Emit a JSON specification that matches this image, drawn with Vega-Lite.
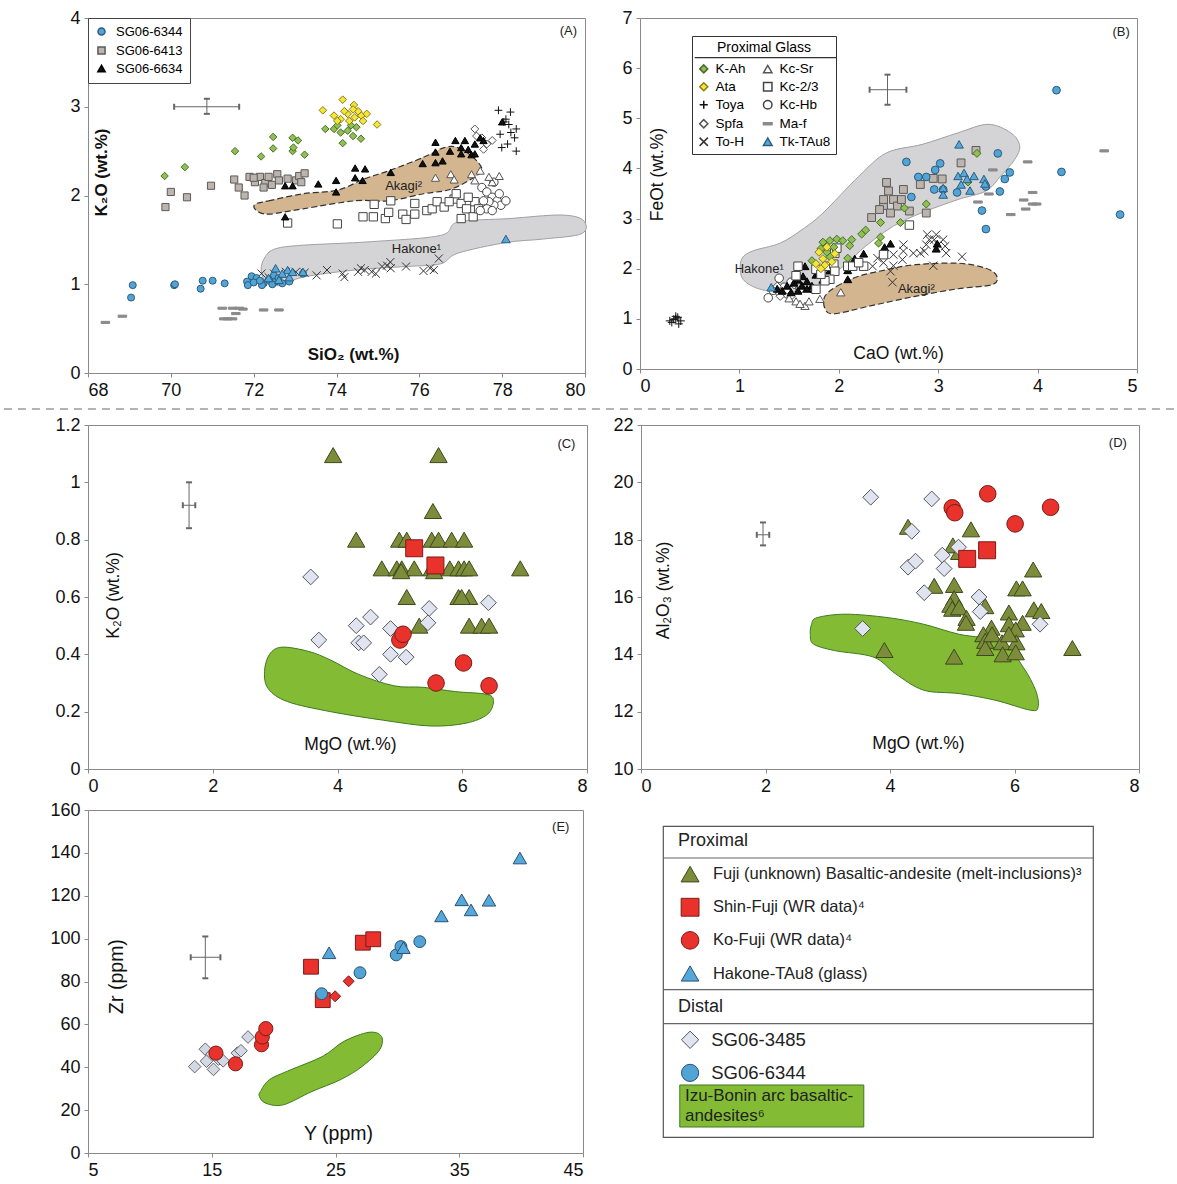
{
"$schema":"https://vega.github.io/schema/vega-lite/v6.json",
"padding":{"left":2,"top":8,"right":2,"bottom":4},
"config":{"font":"Liberation Sans","view":{"stroke":"#8a8a8a","strokeWidth":1},
"axis":{"grid":false,"domainColor":"#8a8a8a","tickColor":"#8a8a8a","tickSize":4,"labelFontSize":18,"labelColor":"#111","titleFontSize":17.5,"titleFontWeight":"normal","titleColor":"#111","labelPadding":4,"labelFont":"Liberation Sans","titleFont":"Liberation Sans","format":"~r"},
"legend":{"labelFont":"Liberation Sans","titleFont":"Liberation Sans"}},
"datasets":{
"A_pts":[
{"s":"Ma-f","x":68.42,"y":0.57},{"s":"Ma-f","x":68.83,"y":0.64},{"s":"Ma-f","x":71.24,"y":0.73},{"s":"Ma-f","x":71.49,"y":0.73},{"s":"Ma-f","x":71.66,"y":0.73},{"s":"Ma-f","x":71.37,"y":0.61},{"s":"Ma-f","x":71.57,"y":0.67},{"s":"Ma-f","x":71.74,"y":0.72},{"s":"Ma-f","x":72.24,"y":0.71},{"s":"Ma-f","x":72.61,"y":0.71},{"s":"Ma-f","x":71.28,"y":0.61},{"s":"Ma-f","x":71.49,"y":0.61},
{"s":"To-H","x":72.19,"y":1.12},{"s":"To-H","x":72.36,"y":1.08},{"s":"To-H","x":72.49,"y":1.12},{"s":"To-H","x":72.78,"y":1.14},{"s":"To-H","x":73.02,"y":1.14},{"s":"To-H","x":73.23,"y":1.13},{"s":"To-H","x":73.52,"y":1.1},{"s":"To-H","x":73.77,"y":1.16},{"s":"To-H","x":74.15,"y":1.12},{"s":"To-H","x":74.19,"y":1.08},{"s":"To-H","x":74.52,"y":1.14},{"s":"To-H","x":74.68,"y":1.16},{"s":"To-H","x":74.85,"y":1.14},{"s":"To-H","x":75.1,"y":1.2},{"s":"To-H","x":75.22,"y":1.21},{"s":"To-H","x":75.3,"y":1.25},{"s":"To-H","x":75.68,"y":1.2},{"s":"To-H","x":76.1,"y":1.15},{"s":"To-H","x":76.26,"y":1.18},{"s":"To-H","x":76.35,"y":1.16},{"s":"To-H","x":76.47,"y":1.29},{"s":"To-H","x":74.95,"y":1.12},{"s":"To-H","x":75.31,"y":1.18},{"s":"To-H","x":74.59,"y":1.18},
{"s":"Kc-2/3","x":72.82,"y":1.69},{"s":"Kc-2/3","x":74.02,"y":1.68},{"s":"Kc-2/3","x":74.64,"y":1.76},{"s":"Kc-2/3","x":74.89,"y":1.76},{"s":"Kc-2/3","x":74.91,"y":1.9},{"s":"Kc-2/3","x":75.18,"y":1.74},{"s":"Kc-2/3","x":75.26,"y":1.81},{"s":"Kc-2/3","x":75.31,"y":1.94},{"s":"Kc-2/3","x":75.6,"y":1.79},{"s":"Kc-2/3","x":75.68,"y":1.73},{"s":"Kc-2/3","x":75.89,"y":1.91},{"s":"Kc-2/3","x":75.89,"y":1.79},{"s":"Kc-2/3","x":76.18,"y":1.83},{"s":"Kc-2/3","x":76.31,"y":1.85},{"s":"Kc-2/3","x":76.43,"y":1.93},{"s":"Kc-2/3","x":76.6,"y":1.87},{"s":"Kc-2/3","x":76.84,"y":1.96},{"s":"Kc-2/3","x":76.89,"y":2.02},{"s":"Kc-2/3","x":77.01,"y":1.91},{"s":"Kc-2/3","x":77.01,"y":1.74},{"s":"Kc-2/3","x":77.14,"y":1.85},{"s":"Kc-2/3","x":77.34,"y":1.93},{"s":"Kc-2/3","x":77.3,"y":1.76},{"s":"Kc-2/3","x":77.43,"y":1.85},{"s":"Kc-2/3","x":76.72,"y":1.93},{"s":"Kc-2/3","x":77.18,"y":1.98},
{"s":"Kc-Hb","x":77.51,"y":2.09},{"s":"Kc-Hb","x":77.63,"y":2.04},{"s":"Kc-Hb","x":77.76,"y":1.98},{"s":"Kc-Hb","x":77.88,"y":1.94},{"s":"Kc-Hb","x":77.97,"y":1.89},{"s":"Kc-Hb","x":78.09,"y":1.94},{"s":"Kc-Hb","x":77.8,"y":1.89},{"s":"Kc-Hb","x":77.68,"y":1.93},{"s":"Kc-Hb","x":77.55,"y":1.94},{"s":"Kc-Hb","x":77.93,"y":2.02},{"s":"Kc-Hb","x":77.8,"y":2.15},{"s":"Kc-Hb","x":77.63,"y":1.85},{"s":"Kc-Hb","x":77.47,"y":1.83},{"s":"Kc-Hb","x":77.76,"y":1.83},
{"s":"Kc-Sr","x":76.39,"y":2.2},{"s":"Kc-Sr","x":76.76,"y":2.24},{"s":"Kc-Sr","x":76.84,"y":2.18},{"s":"Kc-Sr","x":77.26,"y":2.24},{"s":"Kc-Sr","x":77.47,"y":2.28},{"s":"Kc-Sr","x":77.76,"y":2.15},{"s":"Kc-Sr","x":77.93,"y":2.22},{"s":"Kc-Sr","x":77.68,"y":2.21},{"s":"Kc-Sr","x":77.34,"y":2.17},
{"s":"Spfa","x":77.34,"y":2.75},{"s":"Spfa","x":77.51,"y":2.65},{"s":"Spfa","x":77.55,"y":2.52},{"s":"Spfa","x":77.76,"y":2.62},{"s":"Spfa","x":77.38,"y":2.67},{"s":"Spfa","x":77.63,"y":2.58},
{"s":"Toya","x":78.09,"y":2.86},{"s":"Toya","x":78.2,"y":2.94},{"s":"Toya","x":77.91,"y":2.96},{"s":"Toya","x":78.34,"y":2.75},{"s":"Toya","x":78.21,"y":2.71},{"s":"Toya","x":78.3,"y":2.65},{"s":"Toya","x":78.13,"y":2.58},{"s":"Toya","x":78.34,"y":2.5},{"s":"Toya","x":77.99,"y":2.54},{"s":"Toya","x":78.04,"y":2.83},{"s":"Toya","x":78.16,"y":2.8},{"s":"Toya","x":77.95,"y":2.69},
{"s":"SG06-6413","x":69.87,"y":1.87},{"s":"SG06-6413","x":70.0,"y":2.04},{"s":"SG06-6413","x":70.39,"y":1.98},{"s":"SG06-6413","x":70.97,"y":2.11},{"s":"SG06-6413","x":71.53,"y":2.18},{"s":"SG06-6413","x":71.64,"y":2.09},{"s":"SG06-6413","x":71.78,"y":2.0},{"s":"SG06-6413","x":71.9,"y":2.21},{"s":"SG06-6413","x":72.03,"y":2.15},{"s":"SG06-6413","x":72.15,"y":2.21},{"s":"SG06-6413","x":72.28,"y":2.14},{"s":"SG06-6413","x":72.36,"y":2.21},{"s":"SG06-6413","x":72.44,"y":2.12},{"s":"SG06-6413","x":72.57,"y":2.24},{"s":"SG06-6413","x":72.61,"y":2.17},{"s":"SG06-6413","x":72.82,"y":2.19},{"s":"SG06-6413","x":73.02,"y":2.17},{"s":"SG06-6413","x":73.1,"y":2.22},{"s":"SG06-6413","x":73.23,"y":2.25},{"s":"SG06-6413","x":73.15,"y":2.15},{"s":"SG06-6413","x":72.24,"y":2.09},{"s":"SG06-6413","x":72.0,"y":2.2},
{"s":"K-Ah","x":69.85,"y":2.22},{"s":"K-Ah","x":70.34,"y":2.32},{"s":"K-Ah","x":71.55,"y":2.5},{"s":"K-Ah","x":72.18,"y":2.44},{"s":"K-Ah","x":72.47,"y":2.66},{"s":"K-Ah","x":72.47,"y":2.53},{"s":"K-Ah","x":72.94,"y":2.65},{"s":"K-Ah","x":72.94,"y":2.5},{"s":"K-Ah","x":73.07,"y":2.62},{"s":"K-Ah","x":73.23,"y":2.46},{"s":"K-Ah","x":72.96,"y":2.54},{"s":"K-Ah","x":73.73,"y":2.75},{"s":"K-Ah","x":73.94,"y":2.75},{"s":"K-Ah","x":74.1,"y":2.71},{"s":"K-Ah","x":74.27,"y":2.73},{"s":"K-Ah","x":74.4,"y":2.67},{"s":"K-Ah","x":74.59,"y":2.64},{"s":"K-Ah","x":74.15,"y":2.59},{"s":"K-Ah","x":74.02,"y":2.79},{"s":"K-Ah","x":74.48,"y":2.77},{"s":"K-Ah","x":74.35,"y":2.79},
{"s":"Ata","x":73.67,"y":2.96},{"s":"Ata","x":74.15,"y":3.08},{"s":"Ata","x":74.42,"y":3.02},{"s":"Ata","x":74.98,"y":2.8},{"s":"Ata","x":73.94,"y":2.9},{"s":"Ata","x":74.1,"y":2.86},{"s":"Ata","x":74.27,"y":2.92},{"s":"Ata","x":74.44,"y":2.88},{"s":"Ata","x":74.6,"y":2.9},{"s":"Ata","x":74.73,"y":2.92},{"s":"Ata","x":74.52,"y":2.95},{"s":"Ata","x":74.31,"y":2.84},{"s":"Ata","x":74.19,"y":2.95},{"s":"Ata","x":74.64,"y":2.84},{"s":"Ata","x":74.02,"y":2.84},{"s":"Ata","x":74.4,"y":2.97},
{"s":"SG06-6634","x":72.76,"y":1.76},{"s":"SG06-6634","x":72.76,"y":2.11},{"s":"SG06-6634","x":72.94,"y":2.11},{"s":"SG06-6634","x":73.56,"y":2.13},{"s":"SG06-6634","x":73.99,"y":2.04},{"s":"SG06-6634","x":73.99,"y":2.17},{"s":"SG06-6634","x":74.45,"y":2.31},{"s":"SG06-6634","x":74.69,"y":2.3},{"s":"SG06-6634","x":74.45,"y":2.2},{"s":"SG06-6634","x":74.63,"y":2.17},{"s":"SG06-6634","x":75.31,"y":2.26},{"s":"SG06-6634","x":76.08,"y":2.36},{"s":"SG06-6634","x":76.39,"y":2.6},{"s":"SG06-6634","x":76.39,"y":2.49},{"s":"SG06-6634","x":76.39,"y":2.37},{"s":"SG06-6634","x":76.56,"y":2.39},{"s":"SG06-6634","x":76.74,"y":2.5},{"s":"SG06-6634","x":76.87,"y":2.62},{"s":"SG06-6634","x":77.01,"y":2.47},{"s":"SG06-6634","x":77.1,"y":2.62},{"s":"SG06-6634","x":77.18,"y":2.52},{"s":"SG06-6634","x":77.34,"y":2.58},{"s":"SG06-6634","x":77.47,"y":2.65},{"s":"SG06-6634","x":77.55,"y":2.62},{"s":"SG06-6634","x":77.26,"y":2.46},{"s":"SG06-6634","x":77.01,"y":2.54},{"s":"SG06-6634","x":77.34,"y":2.47},{"s":"SG06-6634","x":78.0,"y":2.83},
{"s":"SG06-6344","x":69.08,"y":0.99},{"s":"SG06-6344","x":69.04,"y":0.85},{"s":"SG06-6344","x":70.08,"y":0.99},{"s":"SG06-6344","x":70.1,"y":1.0},{"s":"SG06-6344","x":70.72,"y":0.95},{"s":"SG06-6344","x":70.77,"y":1.04},{"s":"SG06-6344","x":71.01,"y":1.04},{"s":"SG06-6344","x":71.3,"y":1.01},{"s":"SG06-6344","x":71.84,"y":1.03},{"s":"SG06-6344","x":71.86,"y":0.99},{"s":"SG06-6344","x":71.95,"y":1.09},{"s":"SG06-6344","x":72.07,"y":1.07},{"s":"SG06-6344","x":72.24,"y":1.01},{"s":"SG06-6344","x":72.36,"y":1.05},{"s":"SG06-6344","x":72.53,"y":1.03},{"s":"SG06-6344","x":72.69,"y":1.01},{"s":"SG06-6344","x":72.86,"y":1.03},{"s":"SG06-6344","x":73.19,"y":1.12},{"s":"SG06-6344","x":72.2,"y":0.99},{"s":"SG06-6344","x":72.49,"y":1.1},{"s":"SG06-6344","x":72.6,"y":1.07},{"s":"SG06-6344","x":72.0,"y":1.02},{"s":"SG06-6344","x":72.15,"y":1.04},{"s":"SG06-6344","x":72.45,"y":1.0},
{"s":"Tk-TAu8","x":78.09,"y":1.51},{"s":"Tk-TAu8","x":72.53,"y":1.18},{"s":"Tk-TAu8","x":72.82,"y":1.16},{"s":"Tk-TAu8","x":73.19,"y":1.14},{"s":"Tk-TAu8","x":72.69,"y":1.12},{"s":"Tk-TAu8","x":72.36,"y":1.07},{"s":"Tk-TAu8","x":72.61,"y":1.05},{"s":"Tk-TAu8","x":72.86,"y":1.08},{"s":"Tk-TAu8","x":72.94,"y":1.14}
],
"A_hak":[{"i":1,"x":72.28,"y":1.31},{"i":2,"x":72.53,"y":1.4},{"i":3,"x":73.19,"y":1.44},{"i":4,"x":74.85,"y":1.48},{"i":5,"x":76.51,"y":1.55},{"i":6,"x":76.93,"y":1.7},{"i":7,"x":78.17,"y":1.74},{"i":8,"x":79.42,"y":1.78},{"i":9,"x":79.96,"y":1.72},{"i":10,"x":79.92,"y":1.57},{"i":11,"x":79.0,"y":1.51},{"i":12,"x":78.09,"y":1.47},{"i":13,"x":76.93,"y":1.35},{"i":14,"x":76.51,"y":1.23},{"i":15,"x":75.68,"y":1.2},{"i":16,"x":74.44,"y":1.16},{"i":17,"x":73.19,"y":1.08},{"i":18,"x":72.69,"y":0.99},{"i":19,"x":72.32,"y":1.01},{"i":20,"x":72.18,"y":1.16}],
"A_aka":[{"i":1,"x":72.03,"y":1.9},{"i":2,"x":72.36,"y":1.94},{"i":3,"x":73.19,"y":2.02},{"i":4,"x":74.02,"y":2.06},{"i":5,"x":74.69,"y":2.19},{"i":6,"x":75.27,"y":2.28},{"i":7,"x":76.1,"y":2.43},{"i":8,"x":76.6,"y":2.54},{"i":9,"x":76.93,"y":2.54},{"i":10,"x":77.3,"y":2.43},{"i":11,"x":77.51,"y":2.3},{"i":12,"x":77.34,"y":2.21},{"i":13,"x":76.76,"y":2.07},{"i":14,"x":76.1,"y":2.02},{"i":15,"x":75.27,"y":1.94},{"i":16,"x":74.44,"y":1.94},{"i":17,"x":73.19,"y":1.85},{"i":18,"x":72.36,"y":1.79},{"i":19,"x":72.07,"y":1.83}],
"A_txt":[{"t":"(A)","x":79.6,"y":3.85},{"t":"Akagi²","x":75.62,"y":2.11},{"t":"Hakone¹","x":75.93,"y":1.4}],
"A_err":[{"x":70.87,"y":3.0,"xlo":70.08,"xhi":71.65,"ylo":2.92,"yhi":3.09}],
"B_pts":[
{"s":"Ma-f","x":3.4,"y":3.33},{"s":"Ma-f","x":3.51,"y":3.49},{"s":"Ma-f","x":3.55,"y":3.97},{"s":"Ma-f","x":3.73,"y":3.08},{"s":"Ma-f","x":3.86,"y":3.37},{"s":"Ma-f","x":3.88,"y":3.19},{"s":"Ma-f","x":3.95,"y":3.29},{"s":"Ma-f","x":3.99,"y":3.29},{"s":"Ma-f","x":3.9,"y":4.13},{"s":"Ma-f","x":3.95,"y":3.52},{"s":"Ma-f","x":4.67,"y":4.35},
{"s":"To-H","x":2.34,"y":2.05},{"s":"To-H","x":2.45,"y":2.12},{"s":"To-H","x":2.46,"y":2.28},{"s":"To-H","x":2.52,"y":1.95},{"s":"To-H","x":2.55,"y":2.06},{"s":"To-H","x":2.54,"y":1.73},{"s":"To-H","x":2.55,"y":2.28},{"s":"To-H","x":2.64,"y":2.18},{"s":"To-H","x":2.65,"y":2.48},{"s":"To-H","x":2.65,"y":2.35},{"s":"To-H","x":2.75,"y":2.31},{"s":"To-H","x":2.82,"y":2.31},{"s":"To-H","x":2.86,"y":2.35},{"s":"To-H","x":2.88,"y":2.48},{"s":"To-H","x":2.89,"y":2.68},{"s":"To-H","x":2.91,"y":2.58},{"s":"To-H","x":2.96,"y":2.58},{"s":"To-H","x":3.0,"y":2.48},{"s":"To-H","x":2.98,"y":2.68},{"s":"To-H","x":3.05,"y":2.58},{"s":"To-H","x":3.07,"y":2.45},{"s":"To-H","x":3.08,"y":2.31},{"s":"To-H","x":3.24,"y":2.24},{"s":"To-H","x":2.95,"y":2.06},{"s":"To-H","x":2.39,"y":2.21},
{"s":"Toya","x":0.36,"y":1.0},{"s":"Toya","x":0.32,"y":0.93},{"s":"Toya","x":0.38,"y":1.03},{"s":"Toya","x":0.39,"y":0.9},{"s":"Toya","x":0.34,"y":0.99},{"s":"Toya","x":0.41,"y":0.96},{"s":"Toya","x":0.36,"y":1.05},{"s":"Toya","x":0.3,"y":0.96},
{"s":"SG06-6413","x":2.33,"y":3.02},{"s":"SG06-6413","x":2.45,"y":3.26},{"s":"SG06-6413","x":2.48,"y":3.72},{"s":"SG06-6413","x":2.5,"y":3.55},{"s":"SG06-6413","x":2.45,"y":3.38},{"s":"SG06-6413","x":2.55,"y":3.38},{"s":"SG06-6413","x":2.59,"y":3.25},{"s":"SG06-6413","x":2.65,"y":3.58},{"s":"SG06-6413","x":2.71,"y":3.15},{"s":"SG06-6413","x":2.88,"y":3.11},{"s":"SG06-6413","x":2.82,"y":3.68},{"s":"SG06-6413","x":2.95,"y":3.8},{"s":"SG06-6413","x":3.04,"y":3.79},{"s":"SG06-6413","x":3.23,"y":4.11},{"s":"SG06-6413","x":3.38,"y":4.36},{"s":"SG06-6413","x":2.41,"y":3.18},{"s":"SG06-6413","x":2.52,"y":3.11},{"s":"SG06-6413","x":2.63,"y":3.38},
{"s":"Kc-Hb","x":1.29,"y":1.42},{"s":"Kc-Hb","x":1.4,"y":1.81},{"s":"Kc-Hb","x":1.34,"y":1.57},{"s":"Kc-Hb","x":1.45,"y":1.63},{"s":"Kc-Hb","x":1.52,"y":1.73},{"s":"Kc-Hb","x":1.48,"y":1.5},{"s":"Kc-Hb","x":1.61,"y":1.6},{"s":"Kc-Hb","x":1.57,"y":1.7},{"s":"Kc-Hb","x":1.41,"y":1.51},
{"s":"Spfa","x":1.38,"y":1.65},{"s":"Spfa","x":1.48,"y":1.58},{"s":"Spfa","x":1.41,"y":1.45},{"s":"Spfa","x":1.55,"y":1.68},{"s":"Spfa","x":1.52,"y":1.45},
{"s":"Kc-Sr","x":1.57,"y":1.35},{"s":"Kc-Sr","x":1.66,"y":1.26},{"s":"Kc-Sr","x":1.81,"y":1.4},{"s":"Kc-Sr","x":2.02,"y":1.53},{"s":"Kc-Sr","x":1.61,"y":1.3},{"s":"Kc-Sr","x":1.7,"y":1.35},{"s":"Kc-Sr","x":1.5,"y":1.41},
{"s":"SG06-6634","x":1.38,"y":1.6},{"s":"SG06-6634","x":1.43,"y":1.56},{"s":"SG06-6634","x":1.48,"y":1.66},{"s":"SG06-6634","x":1.55,"y":1.72},{"s":"SG06-6634","x":1.59,"y":1.78},{"s":"SG06-6634","x":1.63,"y":1.66},{"s":"SG06-6634","x":1.64,"y":1.85},{"s":"SG06-6634","x":1.68,"y":1.75},{"s":"SG06-6634","x":1.73,"y":1.66},{"s":"SG06-6634","x":1.77,"y":1.88},{"s":"SG06-6634","x":1.8,"y":1.91},{"s":"SG06-6634","x":1.84,"y":1.78},{"s":"SG06-6634","x":1.66,"y":2.05},{"s":"SG06-6634","x":1.68,"y":1.6},{"s":"SG06-6634","x":1.59,"y":1.56},{"s":"SG06-6634","x":1.52,"y":1.53},{"s":"SG06-6634","x":1.91,"y":1.97},{"s":"SG06-6634","x":2.09,"y":1.97},{"s":"SG06-6634","x":2.16,"y":2.2},{"s":"SG06-6634","x":2.25,"y":2.3},{"s":"SG06-6634","x":2.46,"y":2.43},{"s":"SG06-6634","x":2.52,"y":2.5},{"s":"SG06-6634","x":2.99,"y":2.5},{"s":"SG06-6634","x":2.98,"y":2.4},{"s":"SG06-6634","x":2.09,"y":1.79},{"s":"SG06-6634","x":1.75,"y":1.6},
{"s":"Kc-2/3","x":1.59,"y":2.05},{"s":"Kc-2/3","x":1.57,"y":1.86},{"s":"Kc-2/3","x":1.77,"y":1.99},{"s":"Kc-2/3","x":1.88,"y":2.05},{"s":"Kc-2/3","x":1.96,"y":2.31},{"s":"Kc-2/3","x":1.98,"y":2.41},{"s":"Kc-2/3","x":1.95,"y":2.09},{"s":"Kc-2/3","x":1.96,"y":1.95},{"s":"Kc-2/3","x":1.91,"y":1.79},{"s":"Kc-2/3","x":2.09,"y":2.05},{"s":"Kc-2/3","x":2.14,"y":2.05},{"s":"Kc-2/3","x":2.25,"y":2.05},{"s":"Kc-2/3","x":2.45,"y":2.28},{"s":"Kc-2/3","x":2.71,"y":2.87},{"s":"Kc-2/3","x":1.77,"y":1.59},{"s":"Kc-2/3","x":1.86,"y":1.76},{"s":"Kc-2/3","x":1.82,"y":1.89},{"s":"Kc-2/3","x":2.2,"y":2.12},
{"s":"K-Ah","x":1.73,"y":2.16},{"s":"K-Ah","x":1.84,"y":2.53},{"s":"K-Ah","x":1.91,"y":2.56},{"s":"K-Ah","x":1.98,"y":2.59},{"s":"K-Ah","x":2.04,"y":2.56},{"s":"K-Ah","x":2.11,"y":2.46},{"s":"K-Ah","x":2.13,"y":2.58},{"s":"K-Ah","x":1.91,"y":2.24},{"s":"K-Ah","x":2.09,"y":2.21},{"s":"K-Ah","x":2.23,"y":2.69},{"s":"K-Ah","x":2.27,"y":2.77},{"s":"K-Ah","x":2.42,"y":2.92},{"s":"K-Ah","x":2.42,"y":2.63},{"s":"K-Ah","x":2.4,"y":2.51},{"s":"K-Ah","x":2.62,"y":2.92},{"s":"K-Ah","x":2.66,"y":3.21},{"s":"K-Ah","x":2.88,"y":3.29},{"s":"K-Ah","x":3.39,"y":4.3},{"s":"K-Ah","x":3.3,"y":3.73},{"s":"K-Ah","x":1.82,"y":2.4},{"s":"K-Ah","x":1.95,"y":2.43},{"s":"K-Ah","x":1.88,"y":2.33},
{"s":"Ata","x":1.8,"y":2.33},{"s":"Ata","x":1.88,"y":2.43},{"s":"Ata","x":1.84,"y":2.2},{"s":"Ata","x":1.93,"y":2.14},{"s":"Ata","x":1.77,"y":2.1},{"s":"Ata","x":1.86,"y":2.07},{"s":"Ata","x":1.82,"y":2.0},{"s":"Ata","x":1.96,"y":2.3},
{"s":"SG06-6344","x":4.19,"y":5.56},{"s":"SG06-6344","x":4.24,"y":3.93},{"s":"SG06-6344","x":4.83,"y":3.08},{"s":"SG06-6344","x":2.68,"y":4.13},{"s":"SG06-6344","x":3.02,"y":4.1},{"s":"SG06-6344","x":2.97,"y":3.97},{"s":"SG06-6344","x":3.6,"y":4.3},{"s":"SG06-6344","x":3.72,"y":3.92},{"s":"SG06-6344","x":3.67,"y":3.79},{"s":"SG06-6344","x":3.62,"y":3.54},{"s":"SG06-6344","x":3.44,"y":3.16},{"s":"SG06-6344","x":3.48,"y":2.79},{"s":"SG06-6344","x":3.48,"y":3.64},{"s":"SG06-6344","x":3.19,"y":3.52},{"s":"SG06-6344","x":2.96,"y":3.58},{"s":"SG06-6344","x":2.8,"y":3.83},{"s":"SG06-6344","x":2.88,"y":3.83},{"s":"SG06-6344","x":2.73,"y":3.43},{"s":"SG06-6344","x":3.05,"y":3.58},
{"s":"Tk-TAu8","x":1.32,"y":1.63},{"s":"Tk-TAu8","x":3.21,"y":4.48},{"s":"Tk-TAu8","x":3.05,"y":3.61},{"s":"Tk-TAu8","x":3.05,"y":3.48},{"s":"Tk-TAu8","x":3.2,"y":3.85},{"s":"Tk-TAu8","x":3.26,"y":3.91},{"s":"Tk-TAu8","x":3.29,"y":3.79},{"s":"Tk-TAu8","x":3.36,"y":3.85},{"s":"Tk-TAu8","x":3.46,"y":3.79},{"s":"Tk-TAu8","x":3.32,"y":3.56},{"s":"Tk-TAu8","x":3.23,"y":3.68},{"s":"Tk-TAu8","x":3.47,"y":3.7}
],
"B_hak":[{"i":1,"x":1.02,"y":2.18},{"i":2,"x":1.13,"y":2.35},{"i":3,"x":1.41,"y":2.51},{"i":4,"x":1.63,"y":2.78},{"i":5,"x":1.84,"y":3.11},{"i":6,"x":2.2,"y":3.84},{"i":7,"x":2.48,"y":4.31},{"i":8,"x":2.84,"y":4.48},{"i":9,"x":3.2,"y":4.71},{"i":10,"x":3.5,"y":4.88},{"i":11,"x":3.73,"y":4.71},{"i":12,"x":3.82,"y":4.45},{"i":13,"x":3.77,"y":4.18},{"i":14,"x":3.63,"y":3.85},{"i":15,"x":3.48,"y":3.55},{"i":16,"x":3.2,"y":3.38},{"i":17,"x":2.84,"y":3.12},{"i":18,"x":2.55,"y":2.85},{"i":19,"x":2.27,"y":2.45},{"i":20,"x":2.09,"y":2.12},{"i":21,"x":1.91,"y":1.85},{"i":22,"x":1.7,"y":1.58},{"i":23,"x":1.34,"y":1.55},{"i":24,"x":1.13,"y":1.65},{"i":25,"x":1.02,"y":1.85}],
"B_aka":[{"i":1,"x":1.86,"y":1.45},{"i":2,"x":1.98,"y":1.65},{"i":3,"x":2.2,"y":1.85},{"i":4,"x":2.48,"y":1.98},{"i":5,"x":2.77,"y":2.08},{"i":6,"x":3.2,"y":2.11},{"i":7,"x":3.48,"y":2.01},{"i":8,"x":3.59,"y":1.85},{"i":9,"x":3.54,"y":1.68},{"i":10,"x":3.2,"y":1.6},{"i":11,"x":2.77,"y":1.45},{"i":12,"x":2.3,"y":1.25},{"i":13,"x":1.95,"y":1.1},{"i":14,"x":1.86,"y":1.21}],
"B_txt":[{"t":"(B)","x":4.84,"y":6.73},{"t":"Hakone¹","x":1.2,"y":2.0},{"t":"Akagi²","x":2.78,"y":1.6}],
"B_err":[{"x":2.49,"y":5.57,"xlo":2.31,"xhi":2.68,"ylo":5.27,"yhi":5.87}],
"B_line":[{"x":0.55,"x2":1.975,"y":6.21}],
"C_pts":[
{"s":"Fuji","x":3.93,"y":1.095},{"s":"Fuji","x":5.62,"y":1.095},{"s":"Fuji","x":5.53,"y":0.9},{"s":"Fuji","x":4.3,"y":0.8},{"s":"Fuji","x":4.99,"y":0.8},{"s":"Fuji","x":5.11,"y":0.8},{"s":"Fuji","x":5.51,"y":0.8},{"s":"Fuji","x":5.62,"y":0.8},{"s":"Fuji","x":5.83,"y":0.8},{"s":"Fuji","x":6.03,"y":0.8},{"s":"Fuji","x":4.71,"y":0.7},{"s":"Fuji","x":4.95,"y":0.7},{"s":"Fuji","x":5.03,"y":0.7},{"s":"Fuji","x":5.23,"y":0.7},{"s":"Fuji","x":5.51,"y":0.7},{"s":"Fuji","x":5.8,"y":0.7},{"s":"Fuji","x":5.94,"y":0.7},{"s":"Fuji","x":6.03,"y":0.7},{"s":"Fuji","x":6.11,"y":0.7},{"s":"Fuji","x":6.93,"y":0.7},{"s":"Fuji","x":5.11,"y":0.6},{"s":"Fuji","x":5.94,"y":0.6},{"s":"Fuji","x":6.11,"y":0.6},{"s":"Fuji","x":5.99,"y":0.6},{"s":"Fuji","x":5.31,"y":0.5},{"s":"Fuji","x":6.11,"y":0.5},{"s":"Fuji","x":6.31,"y":0.5},{"s":"Fuji","x":6.43,"y":0.5},{"s":"Fuji","x":5.02,"y":0.69},{"s":"Fuji","x":5.55,"y":0.69},
{"s":"SG06-3485","x":3.57,"y":0.67},{"s":"SG06-3485","x":3.7,"y":0.45},{"s":"SG06-3485","x":4.3,"y":0.5},{"s":"SG06-3485","x":4.53,"y":0.53},{"s":"SG06-3485","x":4.34,"y":0.44},{"s":"SG06-3485","x":4.42,"y":0.44},{"s":"SG06-3485","x":4.85,"y":0.49},{"s":"SG06-3485","x":4.85,"y":0.4},{"s":"SG06-3485","x":5.1,"y":0.39},{"s":"SG06-3485","x":4.67,"y":0.33},{"s":"SG06-3485","x":5.47,"y":0.56},{"s":"SG06-3485","x":5.45,"y":0.51},{"s":"SG06-3485","x":6.42,"y":0.58},
{"s":"Shin-Fuji","x":5.23,"y":0.77},{"s":"Shin-Fuji","x":5.57,"y":0.71},
{"s":"Ko-Fuji","x":5.0,"y":0.45},{"s":"Ko-Fuji","x":5.05,"y":0.47},{"s":"Ko-Fuji","x":6.02,"y":0.37},{"s":"Ko-Fuji","x":5.58,"y":0.3},{"s":"Ko-Fuji","x":6.43,"y":0.29}
],
"C_izu":[{"i":1,"x":3.11,"y":0.425},{"i":2,"x":3.54,"y":0.41},{"i":3,"x":3.89,"y":0.38},{"i":4,"x":4.34,"y":0.33},{"i":5,"x":4.91,"y":0.29},{"i":6,"x":5.37,"y":0.285},{"i":7,"x":5.89,"y":0.27},{"i":8,"x":6.4,"y":0.26},{"i":9,"x":6.5,"y":0.235},{"i":10,"x":6.4,"y":0.19},{"i":11,"x":6.06,"y":0.16},{"i":12,"x":5.49,"y":0.15},{"i":13,"x":4.74,"y":0.17},{"i":14,"x":3.89,"y":0.2},{"i":15,"x":3.2,"y":0.235},{"i":16,"x":2.89,"y":0.28},{"i":17,"x":2.83,"y":0.34},{"i":18,"x":2.91,"y":0.4}],
"C_txt":[{"t":"(C)","x":7.67,"y":1.135}],
"C_err":[{"x":1.62,"y":0.92,"xlo":1.52,"xhi":1.72,"ylo":0.84,"yhi":1.0}],
"D_pts":[
{"s":"Fuji","x":4.29,"y":18.45},{"s":"Fuji","x":5.3,"y":18.36},{"s":"Fuji","x":5.01,"y":17.8},{"s":"Fuji","x":5.11,"y":17.57},{"s":"Fuji","x":6.3,"y":16.96},{"s":"Fuji","x":4.71,"y":16.39},{"s":"Fuji","x":5.03,"y":16.42},{"s":"Fuji","x":5.03,"y":15.96},{"s":"Fuji","x":4.97,"y":15.73},{"s":"Fuji","x":5.0,"y":15.59},{"s":"Fuji","x":5.11,"y":15.64},{"s":"Fuji","x":5.23,"y":15.27},{"s":"Fuji","x":5.22,"y":15.1},{"s":"Fuji","x":5.53,"y":15.68},{"s":"Fuji","x":6.03,"y":16.3},{"s":"Fuji","x":6.13,"y":16.3},{"s":"Fuji","x":6.31,"y":15.57},{"s":"Fuji","x":6.43,"y":15.51},{"s":"Fuji","x":5.91,"y":15.46},{"s":"Fuji","x":5.91,"y":15.05},{"s":"Fuji","x":6.13,"y":15.1},{"s":"Fuji","x":5.63,"y":14.93},{"s":"Fuji","x":5.5,"y":14.7},{"s":"Fuji","x":5.53,"y":14.47},{"s":"Fuji","x":5.53,"y":14.22},{"s":"Fuji","x":5.64,"y":14.7},{"s":"Fuji","x":5.8,"y":14.42},{"s":"Fuji","x":5.81,"y":14.0},{"s":"Fuji","x":6.02,"y":14.87},{"s":"Fuji","x":6.03,"y":14.42},{"s":"Fuji","x":6.02,"y":14.07},{"s":"Fuji","x":5.91,"y":14.7},{"s":"Fuji","x":6.93,"y":14.22},{"s":"Fuji","x":3.91,"y":14.15},{"s":"Fuji","x":5.03,"y":13.92},
{"s":"SG06-3485","x":3.69,"y":19.48},{"s":"SG06-3485","x":4.67,"y":19.42},{"s":"SG06-3485","x":4.35,"y":18.29},{"s":"SG06-3485","x":4.29,"y":17.04},{"s":"SG06-3485","x":4.41,"y":17.25},{"s":"SG06-3485","x":4.84,"y":17.46},{"s":"SG06-3485","x":4.87,"y":16.99},{"s":"SG06-3485","x":5.1,"y":17.74},{"s":"SG06-3485","x":4.55,"y":16.15},{"s":"SG06-3485","x":5.43,"y":16.0},{"s":"SG06-3485","x":5.45,"y":15.49},{"s":"SG06-3485","x":3.56,"y":14.9},{"s":"SG06-3485","x":6.41,"y":15.05},
{"s":"Shin-Fuji","x":5.24,"y":17.33},{"s":"Shin-Fuji","x":5.56,"y":17.63},
{"s":"Ko-Fuji","x":5.0,"y":19.11},{"s":"Ko-Fuji","x":5.04,"y":18.94},{"s":"Ko-Fuji","x":5.57,"y":19.6},{"s":"Ko-Fuji","x":6.01,"y":18.55},{"s":"Ko-Fuji","x":6.58,"y":19.13}
],
"D_izu":[{"i":1,"x":2.74,"y":15.05},{"i":2,"x":2.83,"y":15.28},{"i":3,"x":3.29,"y":15.4},{"i":4,"x":3.97,"y":15.28},{"i":5,"x":4.54,"y":15.05},{"i":6,"x":5.11,"y":14.7},{"i":7,"x":5.8,"y":14.42},{"i":8,"x":6.14,"y":13.55},{"i":9,"x":6.34,"y":12.74},{"i":10,"x":6.38,"y":12.17},{"i":11,"x":6.26,"y":12.05},{"i":12,"x":5.69,"y":12.4},{"i":13,"x":5.11,"y":12.63},{"i":14,"x":4.54,"y":12.75},{"i":15,"x":4.09,"y":13.32},{"i":16,"x":3.74,"y":13.9},{"i":17,"x":3.11,"y":14.13},{"i":18,"x":2.77,"y":14.36},{"i":19,"x":2.72,"y":14.7}],
"D_txt":[{"t":"(D)","x":7.66,"y":21.36}],
"D_err":[{"x":1.96,"y":18.17,"xlo":1.86,"xhi":2.06,"ylo":17.8,"yhi":18.6}],
"E_pts":[
{"s":"SG06-3485","x":13.62,"y":40.3},{"s":"SG06-3485","x":14.48,"y":48.4},{"s":"SG06-3485","x":15.0,"y":46.0},{"s":"SG06-3485","x":14.57,"y":42.8},{"s":"SG06-3485","x":15.14,"y":39.0},{"s":"SG06-3485","x":15.55,"y":43.8},{"s":"SG06-3485","x":15.92,"y":43.0},{"s":"SG06-3485","x":17.07,"y":46.6},{"s":"SG06-3485","x":17.36,"y":47.7},{"s":"SG06-3485","x":17.93,"y":54.1},
{"s":"Ko-Fuji","x":15.34,"y":46.6},{"s":"Ko-Fuji","x":16.92,"y":41.6},{"s":"Ko-Fuji","x":19.02,"y":50.5},{"s":"Ko-Fuji","x":19.08,"y":54.1},{"s":"Ko-Fuji","x":19.37,"y":58.0},
{"s":"Shin-Fuji","x":23.02,"y":86.9},{"s":"Shin-Fuji","x":23.97,"y":71.3},{"s":"Shin-Fuji","x":27.21,"y":98.1},{"s":"Shin-Fuji","x":28.05,"y":99.7},
{"s":"Fuji (other)","x":24.97,"y":73.1},{"s":"Fuji (other)","x":26.06,"y":80.1},
{"s":"SG06-6344","x":23.88,"y":74.3},{"s":"SG06-6344","x":26.98,"y":84.1},{"s":"SG06-6344","x":29.91,"y":92.4},{"s":"SG06-6344","x":30.29,"y":96.3},{"s":"SG06-6344","x":31.81,"y":98.6},
{"s":"Hakone-TAu8","x":39.9,"y":137.6},{"s":"Hakone-TAu8","x":35.2,"y":118.1},{"s":"Hakone-TAu8","x":35.95,"y":113.4},{"s":"Hakone-TAu8","x":37.4,"y":117.9},{"s":"Hakone-TAu8","x":33.56,"y":110.6},{"s":"Hakone-TAu8","x":24.48,"y":93.4},{"s":"Hakone-TAu8","x":30.49,"y":95.8}
],
"E_izu":[{"i":1,"x":18.94,"y":28.7},{"i":2,"x":19.66,"y":34.2},{"i":3,"x":21.38,"y":38.8},{"i":4,"x":23.97,"y":45.1},{"i":5,"x":25.69,"y":52.1},{"i":6,"x":27.7,"y":56.3},{"i":7,"x":28.71,"y":54.4},{"i":8,"x":28.56,"y":48.1},{"i":9,"x":27.13,"y":40.3},{"i":10,"x":25.4,"y":34.2},{"i":11,"x":23.1,"y":28.7},{"i":12,"x":20.8,"y":22.5},{"i":13,"x":19.37,"y":23.2},{"i":14,"x":18.85,"y":26.4}],
"E_txt":[{"t":"(E)","x":43.2,"y":152}],
"E_err":[{"x":14.48,"y":91.3,"xlo":13.3,"xhi":15.7,"ylo":81.5,"yhi":101}],
"L":[
{"item":"Proximal","kind":"head"},
{"item":"Fuji (unknown) Basaltic-andesite (melt-inclusions)³","kind":"prox","s":"Fuji"},
{"item":"Shin-Fuji (WR data)⁴","kind":"prox","s":"Shin-Fuji"},
{"item":"Ko-Fuji (WR data)⁴","kind":"prox","s":"Ko-Fuji"},
{"item":"Hakone-TAu8 (glass)","kind":"prox","s":"Hakone-TAu8"},
{"item":"Distal","kind":"head"},
{"item":"SG06-3485","kind":"dist","s":"SG06-3485"},
{"item":"SG06-6344","kind":"dist","s":"SG06-6344"},
{"item":"Izu-Bonin arc basaltic-\nandesites⁶","kind":"box"}
]
},
"spacing":4,
"resolve":{"scale":{"x":"independent","y":"independent","shape":"independent","fill":"independent","stroke":"independent","size":"independent"},"legend":{"shape":"independent","fill":"independent","stroke":"independent","size":"independent"}},
"vconcat":[
{"hconcat":[
{"width":497,"height":355,"layer":[
{"data":{"name":"A_hak"},"mark":{"type":"line","interpolate":"cardinal-closed","fill":"#d4d4d6","stroke":"#a0a0a0","strokeWidth":1},"encoding":{"x":{"field":"x","type":"quantitative","scale":{"domain":[68,80],"nice":false,"zero":false},"axis":{"title":"SiO₂ (wt.%)","values":[68,70,72,74,76,78,80],"titleX":265,"titleY":-19,"titleBaseline":"middle","titleFontWeight":"bold","titleFontSize":17}},"y":{"field":"y","type":"quantitative","scale":{"domain":[0,4],"nice":false},"axis":{"title":"K₂O (wt.%)","values":[0,1,2,3,4],"titleX":13,"titleY":154,"titleAngle":-90,"titleAlign":"center","titleBaseline":"middle","titleFontWeight":"bold","titleFontSize":17}},"order":{"field":"i","type":"quantitative"}}},
{"data":{"name":"A_aka"},"mark":{"type":"line","interpolate":"cardinal-closed","fill":"#d3b690","stroke":"#333","strokeWidth":1.2,"strokeDash":[6,3]},"encoding":{"x":{"field":"x","type":"quantitative"},"y":{"field":"y","type":"quantitative"},"order":{"field":"i","type":"quantitative"}}},
{"data":{"values":[{}]},"mark":{"type":"rule","strokeDash":[8,6],"color":"#9a9a9a","strokeWidth":1.5},"encoding":{"x":{"datum":65.97},"x2":{"datum":94.29},"y":{"datum":-0.406}}},
{"data":{"name":"A_err"},"mark":{"type":"rule","color":"#666"},"encoding":{"x":{"field":"xlo","type":"quantitative"},"x2":{"field":"xhi"},"y":{"field":"y","type":"quantitative"}}},
{"data":{"name":"A_err"},"mark":{"type":"rule","color":"#666"},"encoding":{"x":{"field":"x","type":"quantitative"},"y":{"field":"ylo","type":"quantitative"},"y2":{"field":"yhi"}}},
{"data":{"name":"A_err"},"transform":[{"fold":["xlo","xhi"],"as":["k","v"]}],"mark":{"type":"point","shape":"M0,-1L0,1","size":36,"color":"#666","opacity":1},"encoding":{"x":{"field":"v","type":"quantitative"},"y":{"field":"y","type":"quantitative"}}},
{"data":{"name":"A_err"},"transform":[{"fold":["ylo","yhi"],"as":["k","v"]}],"mark":{"type":"point","shape":"M-1,0L1,0","size":36,"color":"#666","opacity":1},"encoding":{"x":{"field":"x","type":"quantitative"},"y":{"field":"v","type":"quantitative"}}},
{"data":{"name":"A_pts"},"mark":{"type":"point","filled":true,"opacity":1,"strokeWidth":1},"encoding":{"x":{"field":"x","type":"quantitative"},"y":{"field":"y","type":"quantitative"},
"shape":{"field":"s","type":"nominal","scale":{"domain":["SG06-6344","SG06-6413","SG06-6634","K-Ah","Ata","Toya","Spfa","To-H","Kc-Sr","Kc-2/3","Kc-Hb","Ma-f","Tk-TAu8"],"range":["circle","square","triangle-up","diamond","diamond","M-1,0L1,0M0,-1L0,1","diamond","M-1,-1L1,1M-1,1L1,-1","triangle-up","square","circle","M-1,-0.25L1,-0.25L1,0.25L-1,0.25Z","triangle-up"]},"legend":{"values":["SG06-6344","SG06-6413","SG06-6634"],"orient":"top-left","offset":0,"title":null,"padding":7,"strokeColor":"#444","fillColor":"#fff","labelFontSize":13,"rowPadding":4,"labelOffset":8}},
"fill":{"field":"s","type":"nominal","scale":{"domain":["SG06-6344","SG06-6413","SG06-6634","K-Ah","Ata","Toya","Spfa","To-H","Kc-Sr","Kc-2/3","Kc-Hb","Ma-f","Tk-TAu8"],"range":["#52a3d6","#bcb4ad","#111111","#8dc152","#f3e639","transparent","#ffffff","transparent","#ffffff","#ffffff","#ffffff","#8a8a8a","#55a8dc"]},"legend":{"values":["SG06-6344","SG06-6413","SG06-6634"],"orient":"top-left","offset":0,"title":null,"padding":7,"strokeColor":"#444","fillColor":"#fff","labelFontSize":13,"rowPadding":4,"labelOffset":8}},
"stroke":{"field":"s","type":"nominal","scale":{"domain":["SG06-6344","SG06-6413","SG06-6634","K-Ah","Ata","Toya","Spfa","To-H","Kc-Sr","Kc-2/3","Kc-Hb","Ma-f","Tk-TAu8"],"range":["#2c5d7c","#5b5b5b","#000000","#4c6b2a","#8c7d14","#111111","#555555","#333333","#555555","#444444","#444444","#8a8a8a","#2c5d7c"]},"legend":{"values":["SG06-6344","SG06-6413","SG06-6634"],"orient":"top-left","offset":0,"title":null,"padding":7,"strokeColor":"#444","fillColor":"#fff","labelFontSize":13,"rowPadding":4,"labelOffset":8}},
"size":{"field":"s","type":"nominal","scale":{"domain":["SG06-6344","SG06-6413","SG06-6634","K-Ah","Ata","Toya","Spfa","To-H","Kc-Sr","Kc-2/3","Kc-Hb","Ma-f","Tk-TAu8"],"range":[49,75,120,64,64,74,64,50,100,75,64,100,106]},"legend":{"values":["SG06-6344","SG06-6413","SG06-6634"],"orient":"top-left","offset":0,"title":null,"padding":7,"strokeColor":"#444","fillColor":"#fff","labelFontSize":13,"rowPadding":4,"labelOffset":8}}}},
{"data":{"name":"A_txt"},"mark":{"type":"text","fontSize":13,"color":"#222"},"encoding":{"x":{"field":"x","type":"quantitative"},"y":{"field":"y","type":"quantitative"},"text":{"field":"t"}}}
]},
{"width":497,"height":351,"layer":[
{"data":{"name":"B_hak"},"mark":{"type":"line","interpolate":"cardinal-closed","fill":"#d4d4d6","stroke":"#a0a0a0","strokeWidth":1},"encoding":{"x":{"field":"x","type":"quantitative","scale":{"domain":[0,5],"nice":false},"axis":{"title":"CaO (wt.%)","values":[0,1,2,3,4,5],"titleX":258,"titleY":-16,"titleBaseline":"middle"}},"y":{"field":"y","type":"quantitative","scale":{"domain":[0,7],"nice":false},"axis":{"title":"FeOt (wt.%)","values":[0,1,2,3,4,5,6,7],"titleX":17,"titleY":156,"titleAngle":-90,"titleAlign":"center","titleBaseline":"middle"}},"order":{"field":"i","type":"quantitative"}}},
{"data":{"name":"B_aka"},"mark":{"type":"line","interpolate":"cardinal-closed","fill":"#d3b690","stroke":"#333","strokeWidth":1.2,"strokeDash":[6,3]},"encoding":{"x":{"field":"x","type":"quantitative"},"y":{"field":"y","type":"quantitative"},"order":{"field":"i","type":"quantitative"}}},
{"data":{"name":"B_line"},"mark":{"type":"rule","color":"#333","strokeWidth":1.2},"encoding":{"x":{"field":"x","type":"quantitative"},"x2":{"field":"x2"},"y":{"field":"y","type":"quantitative"}}},
{"data":{"name":"B_err"},"mark":{"type":"rule","color":"#666"},"encoding":{"x":{"field":"xlo","type":"quantitative"},"x2":{"field":"xhi"},"y":{"field":"y","type":"quantitative"}}},
{"data":{"name":"B_err"},"mark":{"type":"rule","color":"#666"},"encoding":{"x":{"field":"x","type":"quantitative"},"y":{"field":"ylo","type":"quantitative"},"y2":{"field":"yhi"}}},
{"data":{"name":"B_err"},"transform":[{"fold":["xlo","xhi"],"as":["k","v"]}],"mark":{"type":"point","shape":"M0,-1L0,1","size":36,"color":"#666","opacity":1},"encoding":{"x":{"field":"v","type":"quantitative"},"y":{"field":"y","type":"quantitative"}}},
{"data":{"name":"B_err"},"transform":[{"fold":["ylo","yhi"],"as":["k","v"]}],"mark":{"type":"point","shape":"M-1,0L1,0","size":36,"color":"#666","opacity":1},"encoding":{"x":{"field":"x","type":"quantitative"},"y":{"field":"v","type":"quantitative"}}},
{"data":{"name":"B_pts"},"mark":{"type":"point","filled":true,"opacity":1,"strokeWidth":1},"encoding":{"x":{"field":"x","type":"quantitative"},"y":{"field":"y","type":"quantitative"},
"shape":{"field":"s","type":"nominal","scale":{"domain":["SG06-6344","SG06-6413","SG06-6634","K-Ah","Ata","Toya","Spfa","To-H","Kc-Sr","Kc-2/3","Kc-Hb","Ma-f","Tk-TAu8"],"range":["circle","square","triangle-up","diamond","diamond","M-1,0L1,0M0,-1L0,1","diamond","M-1,-1L1,1M-1,1L1,-1","triangle-up","square","circle","M-1,-0.25L1,-0.25L1,0.25L-1,0.25Z","triangle-up"]},"legend":{"values":["K-Ah","Ata","Toya","Spfa","To-H","Kc-Sr","Kc-2/3","Kc-Hb","Ma-f","Tk-TAu8"],"orient":"none","legendX":52,"legendY":18,"columns":2,"title":"Proximal Glass","titleAnchor":"middle","titleFontSize":14,"titleFontWeight":"normal","titlePadding":7,"strokeColor":"#333","padding":5,"labelFontSize":13.5,"rowPadding":3,"columnPadding":14,"labelOffset":5}},
"fill":{"field":"s","type":"nominal","scale":{"domain":["SG06-6344","SG06-6413","SG06-6634","K-Ah","Ata","Toya","Spfa","To-H","Kc-Sr","Kc-2/3","Kc-Hb","Ma-f","Tk-TAu8"],"range":["#52a3d6","#bcb4ad","#111111","#8dc152","#f3e639","transparent","#ffffff","transparent","#ffffff","#ffffff","#ffffff","#8a8a8a","#55a8dc"]},"legend":{"values":["K-Ah","Ata","Toya","Spfa","To-H","Kc-Sr","Kc-2/3","Kc-Hb","Ma-f","Tk-TAu8"],"orient":"none","legendX":52,"legendY":18,"columns":2,"title":"Proximal Glass","titleAnchor":"middle","titleFontSize":14,"titleFontWeight":"normal","titlePadding":7,"strokeColor":"#333","padding":5,"labelFontSize":13.5,"rowPadding":3,"columnPadding":14,"labelOffset":5}},
"stroke":{"field":"s","type":"nominal","scale":{"domain":["SG06-6344","SG06-6413","SG06-6634","K-Ah","Ata","Toya","Spfa","To-H","Kc-Sr","Kc-2/3","Kc-Hb","Ma-f","Tk-TAu8"],"range":["#2c5d7c","#5b5b5b","#000000","#4c6b2a","#8c7d14","#111111","#555555","#333333","#555555","#444444","#444444","#8a8a8a","#2c5d7c"]},"legend":{"values":["K-Ah","Ata","Toya","Spfa","To-H","Kc-Sr","Kc-2/3","Kc-Hb","Ma-f","Tk-TAu8"],"orient":"none","legendX":52,"legendY":18,"columns":2,"title":"Proximal Glass","titleAnchor":"middle","titleFontSize":14,"titleFontWeight":"normal","titlePadding":7,"strokeColor":"#333","padding":5,"labelFontSize":13.5,"rowPadding":3,"columnPadding":14,"labelOffset":5}},
"size":{"field":"s","type":"nominal","scale":{"domain":["SG06-6344","SG06-6413","SG06-6634","K-Ah","Ata","Toya","Spfa","To-H","Kc-Sr","Kc-2/3","Kc-Hb","Ma-f","Tk-TAu8"],"range":[60,75,85,64,64,74,64,50,90,75,64,100,95]},"legend":{"values":["K-Ah","Ata","Toya","Spfa","To-H","Kc-Sr","Kc-2/3","Kc-Hb","Ma-f","Tk-TAu8"],"orient":"none","legendX":52,"legendY":18,"columns":2,"title":"Proximal Glass","titleAnchor":"middle","titleFontSize":14,"titleFontWeight":"normal","titlePadding":7,"strokeColor":"#333","padding":5,"labelFontSize":13.5,"rowPadding":3,"columnPadding":14,"labelOffset":5}}}},
{"data":{"name":"B_txt"},"mark":{"type":"text","fontSize":13,"color":"#222"},"encoding":{"x":{"field":"x","type":"quantitative"},"y":{"field":"y","type":"quantitative"},"text":{"field":"t"}}}
]}
],"spacing":55,"bounds":"flush","resolve":{"scale":{"x":"independent","y":"independent","shape":"independent","fill":"independent","stroke":"independent","size":"independent"},"legend":{"shape":"independent","fill":"independent","stroke":"independent","size":"independent"}}},
{"hconcat":[
{"width":499,"height":344,"layer":[
{"data":{"name":"C_izu"},"mark":{"type":"line","interpolate":"cardinal-closed","fill":"#83bc34","stroke":"#3e7a20","strokeWidth":1},"encoding":{"x":{"field":"x","type":"quantitative","scale":{"domain":[0,8],"nice":false},"axis":{"title":"MgO (wt.%)","values":[0,2,4,6,8],"titleX":262,"titleY":-25,"titleBaseline":"middle"}},"y":{"field":"y","type":"quantitative","scale":{"domain":[0,1.2],"nice":false},"axis":{"title":"K₂O (wt.%)","values":[0,0.2,0.4,0.6,0.8,1,1.2],"titleX":25,"titleY":170,"titleAngle":-90,"titleAlign":"center","titleBaseline":"middle"}},"order":{"field":"i","type":"quantitative"}}},
{"data":{"name":"C_err"},"mark":{"type":"rule","color":"#666"},"encoding":{"x":{"field":"xlo","type":"quantitative"},"x2":{"field":"xhi"},"y":{"field":"y","type":"quantitative"}}},
{"data":{"name":"C_err"},"mark":{"type":"rule","color":"#666"},"encoding":{"x":{"field":"x","type":"quantitative"},"y":{"field":"ylo","type":"quantitative"},"y2":{"field":"yhi"}}},
{"data":{"name":"C_err"},"transform":[{"fold":["xlo","xhi"],"as":["k","v"]}],"mark":{"type":"point","shape":"M0,-1L0,1","size":36,"color":"#666","opacity":1},"encoding":{"x":{"field":"v","type":"quantitative"},"y":{"field":"y","type":"quantitative"}}},
{"data":{"name":"C_err"},"transform":[{"fold":["ylo","yhi"],"as":["k","v"]}],"mark":{"type":"point","shape":"M-1,0L1,0","size":36,"color":"#666","opacity":1},"encoding":{"x":{"field":"x","type":"quantitative"},"y":{"field":"v","type":"quantitative"}}},
{"data":{"name":"C_pts"},"mark":{"type":"point","filled":true,"opacity":1,"strokeWidth":1},"encoding":{"x":{"field":"x","type":"quantitative"},"y":{"field":"y","type":"quantitative"},
"shape":{"field":"s","type":"nominal","scale":{"domain":["Fuji","Shin-Fuji","Ko-Fuji","Hakone-TAu8","SG06-3485","SG06-6344","Fuji (other)"],"range":["triangle-up","square","circle","triangle-up","diamond","circle","diamond"]},"legend":null},
"fill":{"field":"s","type":"nominal","scale":{"domain":["Fuji","Shin-Fuji","Ko-Fuji","Hakone-TAu8","SG06-3485","SG06-6344","Fuji (other)"],"range":["#7d8c3b","#e8322b","#e8322b","#55a8dc","#dfe4f0","#52a3d6","#e8322b"]},"legend":null},
"stroke":{"field":"s","type":"nominal","scale":{"domain":["Fuji","Shin-Fuji","Ko-Fuji","Hakone-TAu8","SG06-3485","SG06-6344","Fuji (other)"],"range":["#3b4a1b","#7a1c16","#7a1c16","#2c5070","#555555","#2c5070","#7a1c16"]},"legend":null},
"size":{"field":"s","type":"nominal","scale":{"domain":["Fuji","Shin-Fuji","Ko-Fuji","Hakone-TAu8","SG06-3485","SG06-6344","Fuji (other)"],"range":[300,225,290,300,237,160,160]},"legend":null}}},
{"data":{"name":"C_txt"},"mark":{"type":"text","fontSize":13,"color":"#222"},"encoding":{"x":{"field":"x","type":"quantitative"},"y":{"field":"y","type":"quantitative"},"text":{"field":"t"}}}
]},
{"width":498,"height":344,"layer":[
{"data":{"name":"D_izu"},"mark":{"type":"line","interpolate":"cardinal-closed","fill":"#83bc34","stroke":"#3e7a20","strokeWidth":1},"encoding":{"x":{"field":"x","type":"quantitative","scale":{"domain":[0,8],"nice":false},"axis":{"title":"MgO (wt.%)","values":[0,2,4,6,8],"titleX":277,"titleY":-26,"titleBaseline":"middle"}},"y":{"field":"y","type":"quantitative","scale":{"domain":[10,22],"nice":false,"zero":false},"axis":{"title":"Al₂O₃ (wt.%)","values":[10,12,14,16,18,20,22],"titleX":22,"titleY":165,"titleAngle":-90,"titleAlign":"center","titleBaseline":"middle"}},"order":{"field":"i","type":"quantitative"}}},
{"data":{"name":"D_err"},"mark":{"type":"rule","color":"#666"},"encoding":{"x":{"field":"xlo","type":"quantitative"},"x2":{"field":"xhi"},"y":{"field":"y","type":"quantitative"}}},
{"data":{"name":"D_err"},"mark":{"type":"rule","color":"#666"},"encoding":{"x":{"field":"x","type":"quantitative"},"y":{"field":"ylo","type":"quantitative"},"y2":{"field":"yhi"}}},
{"data":{"name":"D_err"},"transform":[{"fold":["xlo","xhi"],"as":["k","v"]}],"mark":{"type":"point","shape":"M0,-1L0,1","size":36,"color":"#666","opacity":1},"encoding":{"x":{"field":"v","type":"quantitative"},"y":{"field":"y","type":"quantitative"}}},
{"data":{"name":"D_err"},"transform":[{"fold":["ylo","yhi"],"as":["k","v"]}],"mark":{"type":"point","shape":"M-1,0L1,0","size":36,"color":"#666","opacity":1},"encoding":{"x":{"field":"x","type":"quantitative"},"y":{"field":"v","type":"quantitative"}}},
{"data":{"name":"D_pts"},"mark":{"type":"point","filled":true,"opacity":1,"strokeWidth":1},"encoding":{"x":{"field":"x","type":"quantitative"},"y":{"field":"y","type":"quantitative"},
"shape":{"field":"s","type":"nominal","scale":{"domain":["Fuji","Shin-Fuji","Ko-Fuji","Hakone-TAu8","SG06-3485","SG06-6344","Fuji (other)"],"range":["triangle-up","square","circle","triangle-up","diamond","circle","diamond"]},"legend":null},
"fill":{"field":"s","type":"nominal","scale":{"domain":["Fuji","Shin-Fuji","Ko-Fuji","Hakone-TAu8","SG06-3485","SG06-6344","Fuji (other)"],"range":["#7d8c3b","#e8322b","#e8322b","#55a8dc","#dfe4f0","#52a3d6","#e8322b"]},"legend":null},
"stroke":{"field":"s","type":"nominal","scale":{"domain":["Fuji","Shin-Fuji","Ko-Fuji","Hakone-TAu8","SG06-3485","SG06-6344","Fuji (other)"],"range":["#3b4a1b","#7a1c16","#7a1c16","#2c5070","#555555","#2c5070","#7a1c16"]},"legend":null},
"size":{"field":"s","type":"nominal","scale":{"domain":["Fuji","Shin-Fuji","Ko-Fuji","Hakone-TAu8","SG06-3485","SG06-6344","Fuji (other)"],"range":[300,225,290,300,237,160,160]},"legend":null}}},
{"data":{"name":"D_txt"},"mark":{"type":"text","fontSize":13,"color":"#222"},"encoding":{"x":{"field":"x","type":"quantitative"},"y":{"field":"y","type":"quantitative"},"text":{"field":"t"}}}
]}
],"spacing":54,"bounds":"flush","resolve":{"scale":{"x":"independent","y":"independent","shape":"independent","fill":"independent","stroke":"independent","size":"independent"},"legend":{"shape":"independent","fill":"independent","stroke":"independent","size":"independent"}}},
{"hconcat":[
{"width":495,"height":343,"layer":[
{"data":{"name":"E_izu"},"mark":{"type":"line","interpolate":"cardinal-closed","fill":"#83bc34","stroke":"#3e7a20","strokeWidth":1},"encoding":{"x":{"field":"x","type":"quantitative","scale":{"domain":[5,45],"nice":false,"zero":false},"axis":{"title":"Y (ppm)","values":[5,15,25,35,45],"titleX":250,"titleY":-20,"titleBaseline":"middle","titleFontSize":19.5}},"y":{"field":"y","type":"quantitative","scale":{"domain":[0,160],"nice":false},"axis":{"title":"Zr (ppm)","values":[0,20,40,60,80,100,120,140,160],"titleX":28,"titleY":166,"titleAngle":-90,"titleAlign":"center","titleBaseline":"middle","titleFontSize":19.5}},"order":{"field":"i","type":"quantitative"}}},
{"data":{"name":"E_err"},"mark":{"type":"rule","color":"#666"},"encoding":{"x":{"field":"xlo","type":"quantitative"},"x2":{"field":"xhi"},"y":{"field":"y","type":"quantitative"}}},
{"data":{"name":"E_err"},"mark":{"type":"rule","color":"#666"},"encoding":{"x":{"field":"x","type":"quantitative"},"y":{"field":"ylo","type":"quantitative"},"y2":{"field":"yhi"}}},
{"data":{"name":"E_err"},"transform":[{"fold":["xlo","xhi"],"as":["k","v"]}],"mark":{"type":"point","shape":"M0,-1L0,1","size":36,"color":"#666","opacity":1},"encoding":{"x":{"field":"v","type":"quantitative"},"y":{"field":"y","type":"quantitative"}}},
{"data":{"name":"E_err"},"transform":[{"fold":["ylo","yhi"],"as":["k","v"]}],"mark":{"type":"point","shape":"M-1,0L1,0","size":36,"color":"#666","opacity":1},"encoding":{"x":{"field":"x","type":"quantitative"},"y":{"field":"v","type":"quantitative"}}},
{"data":{"name":"E_pts"},"mark":{"type":"point","filled":true,"opacity":1,"strokeWidth":1},"encoding":{"x":{"field":"x","type":"quantitative"},"y":{"field":"y","type":"quantitative"},
"shape":{"field":"s","type":"nominal","scale":{"domain":["Fuji","Shin-Fuji","Ko-Fuji","Hakone-TAu8","SG06-3485","SG06-6344","Fuji (other)"],"range":["triangle-up","square","circle","triangle-up","diamond","circle","diamond"]},"legend":null},
"fill":{"field":"s","type":"nominal","scale":{"domain":["Fuji","Shin-Fuji","Ko-Fuji","Hakone-TAu8","SG06-3485","SG06-6344","Fuji (other)"],"range":["#7d8c3b","#e8322b","#e8322b","#55a8dc","#d3d8e6","#52a3d6","#e8322b"]},"legend":null},
"stroke":{"field":"s","type":"nominal","scale":{"domain":["Fuji","Shin-Fuji","Ko-Fuji","Hakone-TAu8","SG06-3485","SG06-6344","Fuji (other)"],"range":["#3b4a1b","#7a1c16","#7a1c16","#2c5070","#666666","#2c5070","#7a1c16"]},"legend":null},
"size":{"field":"s","type":"nominal","scale":{"domain":["Fuji","Shin-Fuji","Ko-Fuji","Hakone-TAu8","SG06-3485","SG06-6344","Fuji (other)"],"range":[240,121,160,256,90,144,170]},"legend":null}}},
{"data":{"name":"E_txt"},"mark":{"type":"text","fontSize":13,"color":"#222"},"encoding":{"x":{"field":"x","type":"quantitative"},"y":{"field":"y","type":"quantitative"},"text":{"field":"t"}}}
]},
{"width":430,"height":311,"view":{"stroke":"#555","strokeWidth":1.2},"data":{"name":"L"},"layer":[
{"transform":[{"filter":"datum.kind == 'head'"}],"mark":{"type":"rule","color":"#666","strokeWidth":1.2,"yOffset":17},"encoding":{"y":{"field":"item","type":"ordinal","sort":null,"scale":{"type":"point","padding":0,"domain":["Proximal","Fuji (unknown) Basaltic-andesite (melt-inclusions)³","Shin-Fuji (WR data)⁴","Ko-Fuji (WR data)⁴","Hakone-TAu8 (glass)","Distal","SG06-3485","SG06-6344","Izu-Bonin arc basaltic-\nandesites⁶"],"range":[15,280]},"axis":null}}},
{"transform":[{"filter":"datum.item == 'Distal'"}],"mark":{"type":"rule","color":"#666","strokeWidth":1.2,"yOffset":-17},"encoding":{"y":{"field":"item","type":"ordinal","sort":null}}},
{"transform":[{"filter":"datum.kind == 'head'"}],"mark":{"type":"text","align":"left","baseline":"middle","fontSize":18,"color":"#222"},"encoding":{"x":{"datum":0.035,"type":"quantitative","scale":{"domain":[0,1],"nice":false},"axis":null},"y":{"field":"item","type":"ordinal","sort":null},"text":{"field":"item"}}},
{"transform":[{"filter":"datum.kind == 'prox'"}],"mark":{"type":"text","align":"left","baseline":"middle","fontSize":16.5,"color":"#222"},"encoding":{"x":{"datum":0.116,"type":"quantitative"},"y":{"field":"item","type":"ordinal","sort":null},"text":{"field":"item"}}},
{"transform":[{"filter":"datum.kind == 'dist'"}],"mark":{"type":"text","align":"left","baseline":"middle","fontSize":18.5,"color":"#222"},"encoding":{"x":{"datum":0.112,"type":"quantitative"},"y":{"field":"item","type":"ordinal","sort":null},"text":{"field":"item"}}},
{"transform":[{"filter":"datum.kind == 'prox' || datum.kind == 'dist'"}],"mark":{"type":"point","filled":true,"opacity":1,"strokeWidth":1},"encoding":{"x":{"datum":0.063,"type":"quantitative"},"y":{"field":"item","type":"ordinal","sort":null},
"shape":{"field":"s","type":"nominal","scale":{"domain":["Fuji","Shin-Fuji","Ko-Fuji","Hakone-TAu8","SG06-3485","SG06-6344","Fuji (other)"],"range":["triangle-up","square","circle","triangle-up","diamond","circle","diamond"]},"legend":null},
"fill":{"field":"s","type":"nominal","scale":{"domain":["Fuji","Shin-Fuji","Ko-Fuji","Hakone-TAu8","SG06-3485","SG06-6344","Fuji (other)"],"range":["#7d8c3b","#e8322b","#e8322b","#55a8dc","#dfe4f0","#52a3d6","#e8322b"]},"legend":null},
"stroke":{"field":"s","type":"nominal","scale":{"domain":["Fuji","Shin-Fuji","Ko-Fuji","Hakone-TAu8","SG06-3485","SG06-6344","Fuji (other)"],"range":["#3b4a1b","#7a1c16","#7a1c16","#2c5070","#555555","#2c5070","#7a1c16"]},"legend":null},
"size":{"field":"s","type":"nominal","scale":{"domain":["Fuji","Shin-Fuji","Ko-Fuji","Hakone-TAu8","SG06-3485","SG06-6344","Fuji (other)"],"range":[324,289,361,441,324,324,160]},"legend":null}}},
{"transform":[{"filter":"datum.kind == 'box'"}],"mark":{"type":"point","filled":true,"opacity":1,"shape":"M-1,-0.2283L1,-0.2283L1,0.2283L-1,0.2283Z","size":33856,"fill":"#83bc34","stroke":"#3e7a20","strokeWidth":1},"encoding":{"x":{"datum":0.253,"type":"quantitative"},"y":{"field":"item","type":"ordinal","sort":null}}},
{"transform":[{"filter":"datum.kind == 'box'"}],"mark":{"type":"text","align":"left","baseline":"middle","fontSize":17,"color":"#222","lineBreak":"\n","lineHeight":20,"dy":-10},"encoding":{"x":{"datum":0.051,"type":"quantitative"},"y":{"field":"item","type":"ordinal","sort":null},"text":{"field":"item"}}}
]}
],"spacing":80,"center":true,"bounds":"flush","resolve":{"scale":{"x":"independent","y":"independent","shape":"independent","fill":"independent","stroke":"independent","size":"independent"},"legend":{"shape":"independent","fill":"independent","stroke":"independent","size":"independent"}}}
]
}
